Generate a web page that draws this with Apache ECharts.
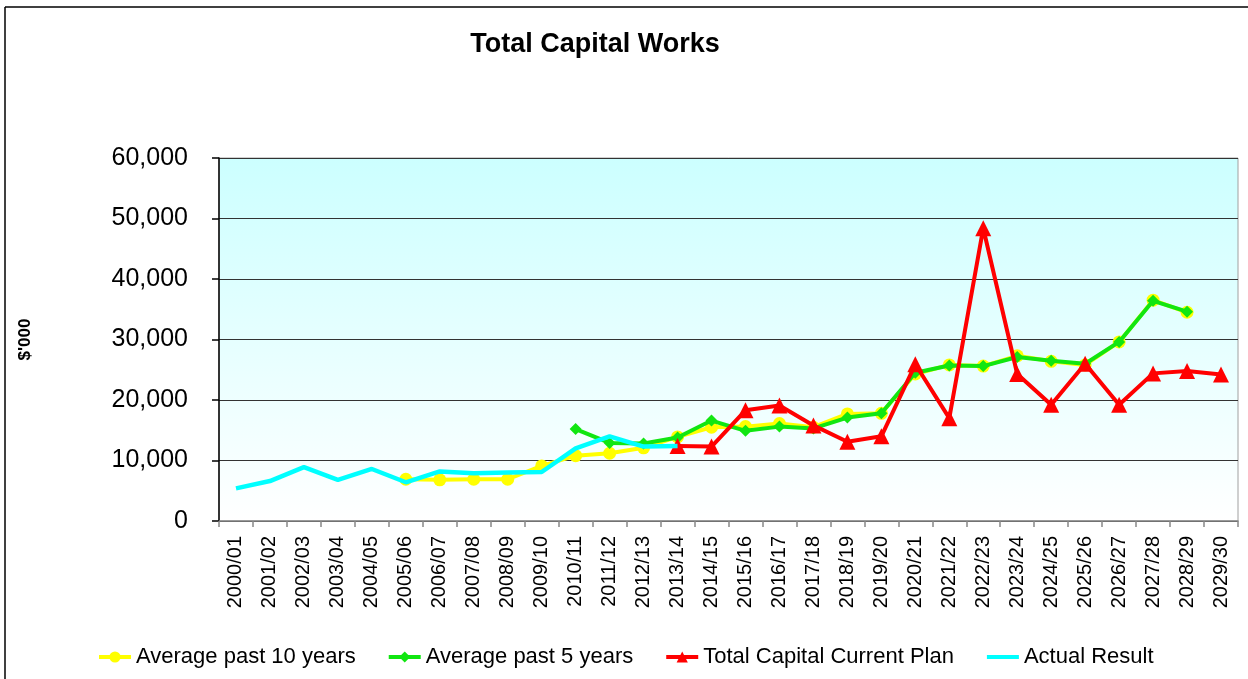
<!DOCTYPE html>
<html>
<head>
<meta charset="utf-8">
<script src="https://cdn.jsdelivr.net/npm/echarts@6/dist/echarts.min.js"></script>
<style>
html,body{margin:0;padding:0;background:#fff;}
#chart{width:1248px;height:679px;}
</style>
</head>
<body>
<div id="chart"></div>
<script>
var categories = ['2000/01','2001/02','2002/03','2003/04','2004/05','2005/06','2006/07','2007/08','2008/09','2009/10',
  '2010/11','2011/12','2012/13','2013/14','2014/15','2015/16','2016/17','2017/18','2018/19','2019/20',
  '2020/21','2021/22','2022/23','2023/24','2024/25','2025/26','2026/27','2027/28','2028/29','2029/30'];

var avgPast10 = [null,null,null,null,null,6900,6800,6900,6900,9100,
  10800,11200,12100,13900,15500,15600,16100,15500,17700,17800,
  24300,25800,25600,27300,26400,25800,29600,36500,34500,null];

var avgPast5 = [null,null,null,null,null,null,null,null,null,null,
  15200,12900,12800,13800,16600,14900,15600,15300,17100,17800,
  24500,25700,25600,27100,26500,26000,29600,36400,34600,null];

var currentPlan = [null,null,null,null,null,null,null,null,null,null,
  null,null,null,12400,12300,18300,19100,15800,13100,14000,
  25900,17000,48400,24300,19200,26000,19200,24400,24800,24200];

var actualResult = [5400,6600,8900,6800,8600,6400,8200,7900,8000,8100,
  12000,14000,12300,12400,null,null,null,null,null,null,
  null,null,null,null,null,null,null,null,null,null];

var yTicks = [0,10000,20000,30000,40000,50000,60000];

var chart = echarts.init(document.getElementById('chart'));
var font = '"Liberation Sans", Arial, sans-serif';

function fmt(v){ return String(v).replace(/\B(?=(\d{3})+(?!\d))/g, ','); }

chart.setOption({
  animation: false,
  backgroundColor: '#ffffff',
  textStyle: { fontFamily: font },
  title: {
    text: 'Total Capital Works',
    left: 590, textAlign: 'center',
    top: 26,
    textStyle: { fontFamily: font, fontSize: 27, fontWeight: 'bold', color: '#000' }
  },
  graphic: [
    { type: 'line', shape: { x1: 5, y1: 7, x2: 1248, y2: 7 }, style: { stroke: '#000', lineWidth: 1.5 }, silent: true },
    { type: 'line', shape: { x1: 5, y1: 7, x2: 5, y2: 679 }, style: { stroke: '#000', lineWidth: 1.5 }, silent: true }
  ],
  legend: {
    left: 92, top: 641,
    itemGap: 31, itemWidth: 32, itemHeight: 14,
    lineStyle: { width: 4 },
    textStyle: { fontFamily: font, fontSize: 22, color: '#000' },
    data: [
      { name: 'Average past 10 years' },
      { name: 'Average past 5 years' },
      { name: 'Total Capital Current Plan' },
      { name: 'Actual Result', itemStyle: { opacity: 0 } }
    ]
  },
  grid: {
    left: 219, right: 10, top: 158, bottom: 158,
    show: true,
    borderColor: '#a0a0a0', borderWidth: 1,
    backgroundColor: { type: 'linear', x: 0, y: 0, x2: 0, y2: 1,
      colorStops: [{ offset: 0, color: '#ccffff' }, { offset: 1, color: '#ffffff' }] }
  },
  xAxis: {
    type: 'category',
    data: categories,
    boundaryGap: true,
    axisLine: { lineStyle: { color: '#888', width: 1.5 } },
    axisTick: { show: true, length: 6, lineStyle: { color: '#888', width: 1.5 }, interval: 0 },
    axisLabel: { interval: 0, rotate: 90, margin: 15, fontSize: 20, color: '#000', fontFamily: font },
    splitLine: { show: false }
  },
  yAxis: {
    type: 'value',
    min: 0, max: 60000, interval: 10000,
    name: "$'000",
    nameLocation: 'middle',
    nameRotate: 90,
    nameGap: 185,
    nameTextStyle: { fontFamily: font, fontSize: 17, fontWeight: 'bold', color: '#000' },
    axisLine: { show: true, lineStyle: { color: '#000', width: 1.5 } },
    axisTick: { show: true, length: 7, lineStyle: { color: '#000', width: 1.5 } },
    axisLabel: { margin: 31, fontSize: 25, color: '#000', fontFamily: font,
      formatter: function(v){ return yTicks.indexOf(v) >= 0 ? fmt(v) : ''; } },
    splitLine: { show: true, lineStyle: { color: '#333', width: 1.2 } }
  },
  series: [
    { name: 'Average past 10 years', type: 'line', data: avgPast10,
      symbol: 'circle', symbolSize: 13, showAllSymbol: true,
      lineStyle: { color: '#ffff00', width: 4 }, itemStyle: { color: '#ffff00' }, z: 2 },
    { name: 'Average past 5 years', type: 'line', data: avgPast5,
      symbol: 'diamond', symbolSize: 12, showAllSymbol: true,
      lineStyle: { color: '#11e611', width: 4 }, itemStyle: { color: '#11e611' }, z: 3 },
    { name: 'Total Capital Current Plan', type: 'line', data: currentPlan,
      symbol: 'triangle', symbolSize: 16, showAllSymbol: true,
      lineStyle: { color: '#ff0000', width: 4 }, itemStyle: { color: '#ff0000' }, z: 4 },
    { name: 'Actual Result', type: 'line', data: actualResult,
      symbol: 'none', showSymbol: false,
      lineStyle: { color: '#00ffff', width: 4.5 }, itemStyle: { color: '#00ffff' }, z: 5 }
  ]
});
</script>
</body>
</html>
